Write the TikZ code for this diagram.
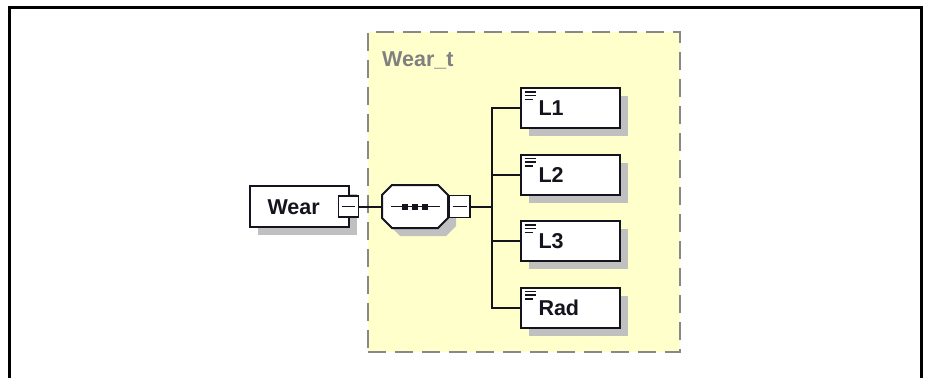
\documentclass[tikz,border=0pt]{standalone}
\usepackage{fontspec}
\setmainfont{Liberation Sans}
\usetikzlibrary{shadows}
\definecolor{boxyellow}{RGB}{255,255,204}
\definecolor{dashgray}{RGB}{136,136,136}
\definecolor{shadowgray}{RGB}{192,192,192}
\definecolor{labelgray}{RGB}{128,128,128}
\definecolor{ink}{RGB}{20,20,30}
\tikzset{
  lbl/.style={font=\bfseries\fontsize{21.5}{25}\selectfont},
  elembase/.style={lbl, text=ink, draw=ink, line width=2pt, fill=white, inner sep=0pt,
    minimum width=99pt, minimum height=41pt, text width=64pt, align=left,
    text height=15pt, text depth=0pt,
    general shadow={fill=shadowgray, shadow xshift=8pt, shadow yshift=-8pt}},
  elem/.style={elembase, minimum height=40pt,
    path picture={
      \draw[line width=1.5pt] ([xshift=3.5pt,yshift=-4pt]path picture bounding box.north west) -- ++(11pt,0pt);
      \draw[line width=1.5pt] ([xshift=3.5pt,yshift=-7.7pt]path picture bounding box.north west) -- ++(11pt,0pt);
      \draw[line width=1.5pt] ([xshift=3.5pt,yshift=-11.3pt]path picture bounding box.north west) -- ++(8.5pt,0pt);
    }},
  minusbox/.style={draw=ink, line width=1.8pt, fill=white, inner sep=0pt,
    minimum width=20pt, minimum height=21pt,
    path picture={\draw[line width=1.8pt] ([xshift=3.5pt]path picture bounding box.west) -- ([xshift=-3.5pt]path picture bounding box.east);}},
  conn/.style={line width=2pt, draw=ink},
}
\begin{document}
\begin{tikzpicture}[x=1pt,y=-1pt]
\useasboundingbox (0,0) rectangle (931,378);
% outer frame (bottom edge cut off)
\draw[line width=3pt] (9.5,378) -- (9.5,7.5) -- (921.5,7.5) -- (921.5,378);
% complex type box
\node[draw=dashgray, dash pattern=on 18pt off 9pt, fill=boxyellow, line width=2pt,
      minimum width=312pt, minimum height=320pt, inner sep=0pt] (wt) at (524,192) {};
\node[lbl, text=labelgray, anchor=base west, inner sep=0pt] (wtl) at (382,66) {Wear\_t};
% sequence compositor
\node[inner sep=0pt, minimum width=66pt, minimum height=43pt] (seq) at (415,206.5) {};
\fill[shadowgray, shift={(seq.center)}, shift={(8,8)}]
  (-23,-21.5) -- (23,-21.5) -- (33,-11.5) -- (33,11.5) -- (23,21.5) -- (-23,21.5) -- (-33,11.5) -- (-33,-11.5) -- cycle;
% connectors
\coordinate (tr) at (492,206.5);
\node[elembase] (wear) at (299.5,206.5) {Wear};
\node[minusbox] (wm) at (348.5,206.5) {};
\node[elem] (l1) at (570.5,108) {L1};
\node[elem] (l2) at (570.5,174.5) {L2};
\node[elem] (l3) at (570.5,241) {L3};
\node[elem] (rad) at (570.5,307.5) {Rad};
\draw[conn] (wm.east) -- (seq.west);
\draw[conn, fill=white, shift={(seq.center)}]
  (-23,-21.5) -- (23,-21.5) -- (33,-11.5) -- (33,11.5) -- (23,21.5) -- (-23,21.5) -- (-33,11.5) -- (-33,-11.5) -- cycle;
\draw[line width=1.8pt, ink] ([xshift=-24pt]seq.center) -- ([xshift=25pt]seq.center);
\foreach \dx in {-10.5,-0.5,9.5}
  \fill[ink] ([xshift=\dx pt-3pt, yshift=3pt]seq.center) rectangle ++(6pt,-6pt);
\node[minusbox, minimum width=21pt, minimum height=22pt] (sm) at (459.5,206.5) {};
\draw[conn] (sm.east) -- (tr);
\draw[conn] (l1.west) -- (l1.west -| tr) -- (rad.west -| tr) -- (rad.west);
\draw[conn] (l2.west) -- (l2.west -| tr);
\draw[conn] (l3.west) -- (l3.west -| tr);
\end{tikzpicture}
\end{document}
